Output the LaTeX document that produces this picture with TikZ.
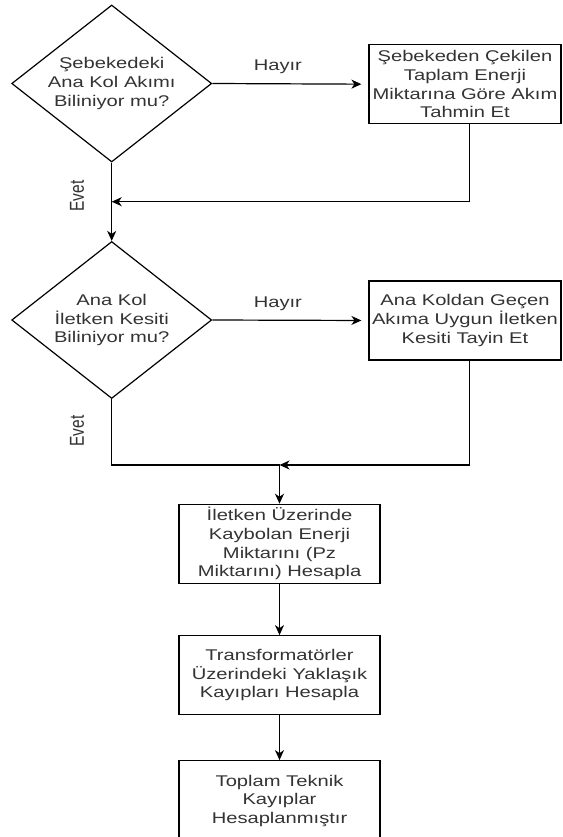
\documentclass[tikz,border=0pt]{standalone}
\usepackage{fontspec}
\setmainfont[FakeStretch=1.3]{Liberation Sans}
\newfontfamily\evetfont{Liberation Sans}
\usetikzlibrary{shapes.geometric,arrows.meta}

\begin{document}
\begin{tikzpicture}[x=1pt, y=-1pt, line width=1.2pt,
    karar/.style={draw, diamond, aspect=1.274, minimum width=200pt, minimum height=157pt, inner sep=0pt,
      align=center, text=black!80, font=\fontsize{15.5}{18.7}\selectfont},
    islem/.style={draw, rectangle, minimum width=201pt, minimum height=79pt, inner sep=0pt,
      align=center, text=black!80, font=\fontsize{15.5}{18.7}\selectfont},
    ok/.style={-{Stealth[length=10pt, width=9pt, inset=3pt]}},
    etiket/.style={inner sep=0pt, text=black!80, font=\fontsize{15.5}{18.7}\selectfont},
    evet/.style={inner sep=0pt, text=black!80, font=\evetfont\fontsize{15.5}{18.7}\selectfont,
      rotate=90, yscale=1.3}]

  \useasboundingbox (0,0) rectangle (562,837);
  \clip (0,0) rectangle (562,837);

  % Entscheidungen
  \node[karar] (d1) at (111.7,83.5) {Şebekedeki\\Ana Kol Akımı\\Biliniyor mu?};
  \node[karar] (d2) at (111.7,320) {Ana Kol\\İletken Kesiti\\Biliniyor mu?};

  % Kästen rechts
  \node[islem, minimum width=192pt] (b1) at (465,84.2) {Şebekeden Çekilen\\Taplam Enerji\\Miktarına Göre Akım\\Tahmin Et};
  \node[islem, minimum width=192pt] (b2) at (465,320.5) {Ana Koldan Geçen\\Akıma Uygun İletken\\Kesiti Tayin Et};

  % Kästen unten (der letzte ist unten abgeschnitten)
  \node[islem] (b3) at (279.5,543.8) {İletken Üzerinde\\Kaybolan Enerji\\Miktarını (Pz\\Miktarını) Hesapla};
  \node[islem] (b4) at (279.5,675.2) {Transformatörler\\Üzerindeki Yaklaşık\\Kayıpları Hesapla};
  \node[islem, minimum height=100pt, text depth=23pt] (b5) at (279.5,810.7) {Toplam Teknik\\Kayıplar\\Hesaplanmıştır};

  % Hilfspunkte
  \coordinate (donus) at (111.7,201.7);
  \coordinate (birles) at (279.5,465);

  % Verbindungen
  \draw[ok, shorten >=7pt] (d1.east) -- (b1.west) node[etiket, pos=0.42, above=9pt] {Hayır};
  \draw[ok] (d1.south) -- (d2.north);
  \draw[ok] ([xshift=4.7pt]b1.south) |- (donus);
  \node[evet] (evet1) at (77,196) {Evet};

  \draw[ok, shorten >=7pt] (d2.east) -- (b2.west) node[etiket, pos=0.42, above=9pt] {Hayır};
  \draw (d2.south) |- (birles);
  \draw[ok] ([xshift=4.7pt]b2.south) |- (birles);
  \node[evet] (evet2) at (77,431) {Evet};

  \draw[ok] (birles) -- (b3.north);
  \draw[ok] (b3) -- (b4);
  \draw[ok] (b4) -- (b5);

\end{tikzpicture}
\end{document}
